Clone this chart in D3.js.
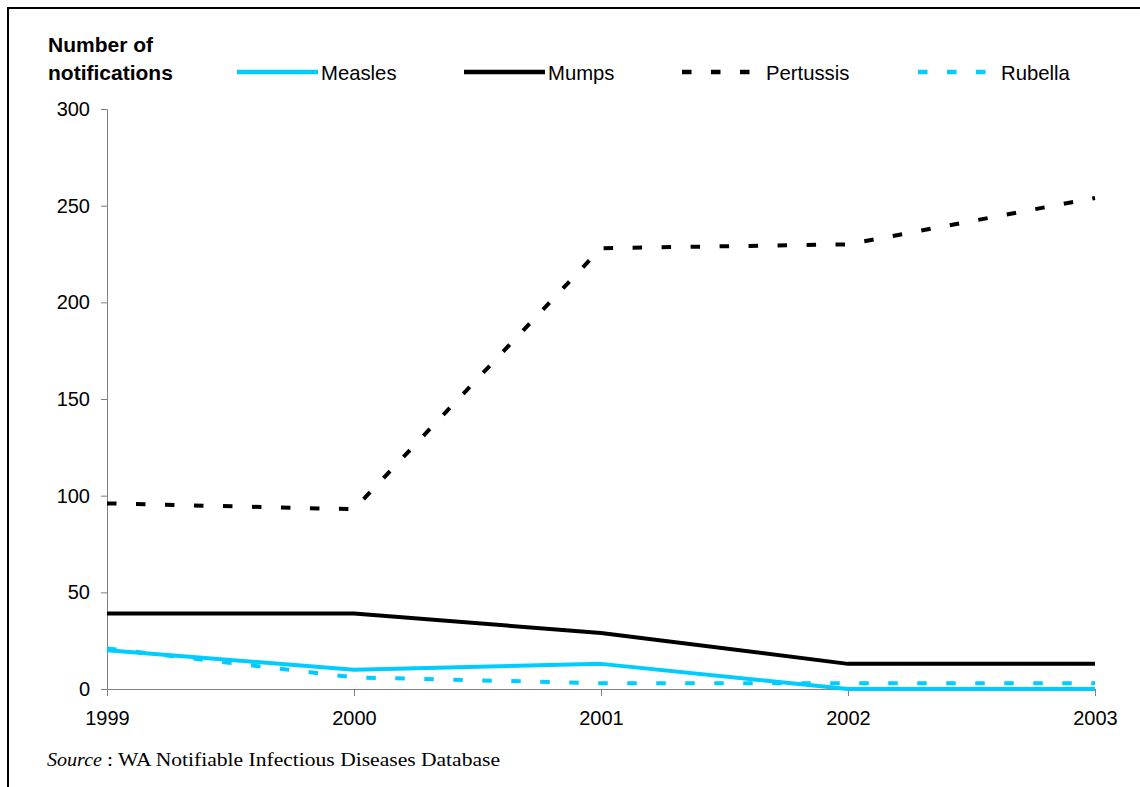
<!DOCTYPE html>
<html>
<head>
<meta charset="utf-8">
<script src="https://cdn.jsdelivr.net/npm/d3@7"></script>
<style>
  body { margin: 0; background: #fff; }
  svg { display: block; }
</style>
</head>
<body>
<div id="chart"></div>
<script>
// Data
const years = [1999, 2000, 2001, 2002, 2003];
const measles = [20, 10, 13, 0, 0];
const mumps = [39, 39, 29, 13, 13];
const pertussis = [96, 93, 228, 230, 254];
const rubella = [21, 6, 3, 3, 3];
const yTicks = [0, 50, 100, 150, 200, 250, 300];

const series = [
  { name: 'Measles', values: measles, color: '#00ccff', dash: null },
  { name: 'Mumps', values: mumps, color: '#000000', dash: null },
  { name: 'Pertussis', values: pertussis, color: '#000000', dash: '9.5,19.5' },
  { name: 'Rubella', values: rubella, color: '#00ccff', dash: '9.5,19.5' }
];

const W = 1140, H = 787;
const svg = d3.select('#chart').append('svg')
  .attr('width', W)
  .attr('height', H);

// Frame (only top and left edges fall inside the window)
svg.append('rect')
  .attr('x', 8).attr('y', 8)
  .attr('width', 1300).attr('height', 1000)
  .attr('fill', 'none')
  .attr('stroke', '#000')
  .attr('stroke-width', 2);

// Scales
const x = d3.scalePoint().domain(years).range([107, 1095]);
const y = d3.scaleLinear().domain([0, 300]).range([689, 109]);

// Y axis
const yAxis = svg.append('g')
  .attr('transform', 'translate(107,0)')
  .call(d3.axisLeft(y).tickValues(yTicks).tickSize(6).tickPadding(11));
yAxis.select('.domain').attr('stroke', '#808080');
yAxis.selectAll('.tick line').attr('stroke', '#808080');
yAxis.selectAll('.tick text')
  .attr('fill', '#000')
  .style('font-family', 'Arial, "Liberation Sans", sans-serif')
  .style('font-size', '20px');

// X axis
const xAxis = svg.append('g')
  .attr('transform', 'translate(0,689)')
  .call(d3.axisBottom(x).tickSize(7).tickSizeOuter(0).tickPadding(10));
xAxis.select('.domain').attr('stroke', '#808080');
xAxis.selectAll('.tick line').attr('stroke', '#808080');
xAxis.selectAll('.tick text')
  .attr('fill', '#000')
  .attr('dy', '0.95em')
  .style('font-family', 'Arial, "Liberation Sans", sans-serif')
  .style('font-size', '20px');

// Lines
const line = d3.line()
  .x((d, i) => x(years[i]))
  .y(d => y(d));

series.forEach(s => {
  svg.append('path')
    .datum(s.values)
    .attr('d', line)
    .attr('fill', 'none')
    .attr('stroke', s.color)
    .attr('stroke-width', 4)
    .attr('stroke-linejoin', 'round')
    .attr('stroke-dasharray', s.dash);
});

// Axis title
const title = svg.append('text')
  .style('font-family', 'Arial, "Liberation Sans", sans-serif')
  .style('font-size', '21px')
  .style('font-weight', 'bold');
title.append('tspan').attr('x', 48).attr('y', 52).text('Number of');
title.append('tspan').attr('x', 48).attr('y', 80).text('notifications');

// Legend
const legendPos = [
  { x1: 237, x2: 318, tx: 321 },
  { x1: 464, x2: 545, tx: 548 },
  { x1: 682, x2: 752, tx: 766 },
  { x1: 918, x2: 988, tx: 1001 }
];
series.forEach((s, i) => {
  const p = legendPos[i];
  svg.append('line')
    .attr('x1', p.x1).attr('x2', p.x2)
    .attr('y1', 72).attr('y2', 72)
    .attr('stroke', s.color)
    .attr('stroke-width', 4.5)
    .attr('stroke-dasharray', s.dash);
  svg.append('text')
    .attr('x', p.tx)
    .attr('y', 80)
    .style('font-family', 'Arial, "Liberation Sans", sans-serif')
    .style('font-size', '20.3px')
    .text(s.name);
});

// Source note
svg.append('text')
  .attr('x', 47)
  .attr('y', 766)
  .attr('textLength', 55)
  .attr('lengthAdjust', 'spacingAndGlyphs')
  .style('font-family', '"Times New Roman", "Liberation Serif", serif')
  .style('font-size', '19px')
  .style('font-style', 'italic')
  .text('Source');
svg.append('text')
  .attr('x', 107)
  .attr('y', 766)
  .attr('textLength', 393)
  .attr('lengthAdjust', 'spacingAndGlyphs')
  .style('font-family', '"Times New Roman", "Liberation Serif", serif')
  .style('font-size', '19px')
  .text(': WA Notifiable Infectious Diseases Database');
</script>
</body>
</html>
